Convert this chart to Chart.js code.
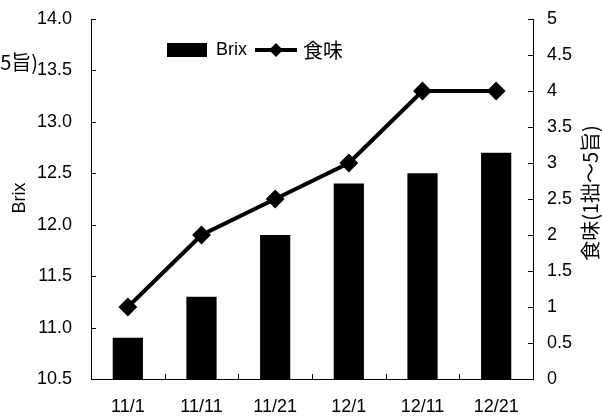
<!DOCTYPE html>
<html>
<head>
<meta charset="utf-8">
<script src="https://cdn.jsdelivr.net/npm/chart.js@4"></script>
<style>
  body { margin: 0; background: #fff; }
  #wrap { width: 602px; height: 416px; }
</style>
</head>
<body>
<div id="wrap"><canvas id="brixChart" width="602" height="416"></canvas></div>
<script>
// harvest dates and measurements
const dates = ['11/1', '11/11', '11/21', '12/1', '12/11', '12/21'];
const brixValues = [10.9, 11.3, 11.9, 12.4, 12.5, 12.7];
const tasteValues = [1, 2, 2.5, 3, 4, 4];
const brixTicks = ['10.5', '11.0', '11.5', '12.0', '12.5', '13.0', '13.5', '14.0'];
const tasteTicks = ['0', '0.5', '1', '1.5', '2', '2.5', '3', '3.5', '4', '4.5', '5'];

const latin = 'Arial, "Liberation Sans", sans-serif';
const cjk = '"Noto Sans CJK JP", "Liberation Sans", sans-serif';
const tasteTitle = '食味(1拙～5旨)';

// fixed axis box sizes so the plot area sits at 91..533 x 19..379
const fixWidth = w => s => { s.width = w; s.paddingTop = 0; s.paddingBottom = 0; };

// inward tick marks, axis titles and the legend
const decorations = {
  id: 'decorations',
  afterDraw(chart) {
    const ctx = chart.ctx;
    const { y, y1 } = chart.scales;
    const area = chart.chartArea;
    ctx.save();
    ctx.strokeStyle = '#000';
    ctx.lineWidth = 1;
    ctx.beginPath();
    y.ticks.forEach(t => {
      const py = Math.round(y.getPixelForValue(t.value)) + 0.5;
      ctx.moveTo(area.left, py);
      ctx.lineTo(area.left + 5, py);
    });
    y1.ticks.forEach(t => {
      const py = Math.round(y1.getPixelForValue(t.value)) + 0.5;
      ctx.moveTo(area.right - 5, py);
      ctx.lineTo(area.right, py);
    });
    const step = (area.right - area.left) / dates.length;
    for (let i = 1; i < dates.length; i++) {
      const px = Math.round(area.left + step * i) + 0.5;
      ctx.moveTo(px, area.bottom);
      ctx.lineTo(px, area.bottom - 5);
    }
    ctx.stroke();

    ctx.fillStyle = '#000';
    ctx.textBaseline = 'middle';

    // left axis title
    ctx.save();
    ctx.translate(20, 198);
    ctx.rotate(-Math.PI / 2);
    ctx.textAlign = 'center';
    ctx.font = '18px ' + latin;
    ctx.fillText('Brix', 0, 0);
    ctx.restore();

    // right axis title
    ctx.save();
    ctx.translate(590, 193);
    ctx.rotate(-Math.PI / 2);
    ctx.textAlign = 'center';
    ctx.font = '20px ' + cjk;
    ctx.fillText(tasteTitle, 0, 0);
    ctx.restore();

    // stray copy of the title running off the left edge
    ctx.textAlign = 'right';
    ctx.font = '20px ' + cjk;
    ctx.fillText(tasteTitle, 38, 62);

    // legend
    ctx.textAlign = 'left';
    ctx.fillRect(167, 43, 40, 14);
    ctx.font = '18px ' + latin;
    ctx.fillText('Brix', 216, 50);
    ctx.lineWidth = 4;
    ctx.beginPath();
    ctx.moveTo(255, 50);
    ctx.lineTo(297, 50);
    ctx.stroke();
    ctx.beginPath();
    ctx.moveTo(276, 43);
    ctx.lineTo(283, 50);
    ctx.lineTo(276, 57);
    ctx.lineTo(269, 50);
    ctx.closePath();
    ctx.fill();
    ctx.font = '20px ' + cjk;
    ctx.fillText('食味', 303, 50);
    ctx.restore();
  }
};

new Chart(document.getElementById('brixChart'), {
  type: 'bar',
  data: {
    labels: dates,
    datasets: [
      {
        type: 'line',
        label: '食味',
        data: tasteValues,
        yAxisID: 'y1',
        borderColor: '#000',
        backgroundColor: '#000',
        borderWidth: 4,
        pointStyle: 'rectRot',
        pointRadius: 8,
        pointBorderWidth: 2,
        tension: 0,
        order: 0
      },
      {
        label: 'Brix',
        data: brixValues,
        yAxisID: 'y',
        backgroundColor: '#000',
        barPercentage: 0.41,
        categoryPercentage: 1,
        order: 1
      }
    ]
  },
  plugins: [decorations],
  options: {
    responsive: false,
    animation: false,
    layout: { autoPadding: false, padding: { top: 19, left: 0, right: 0, bottom: 0 } },
    plugins: { legend: { display: false }, tooltip: { enabled: false } },
    scales: {
      x: {
        grid: { display: false },
        border: { display: true, color: '#000', width: 1 },
        ticks: { color: '#000', font: { family: latin, size: 18 }, padding: 9, maxRotation: 0 },
        afterFit: s => { s.height = 37; s.paddingLeft = 0; s.paddingRight = 0; }
      },
      y: {
        position: 'left',
        min: 10.5,
        max: 14,
        grid: { display: false, drawTicks: false },
        border: { display: true, color: '#000', width: 1 },
        ticks: {
          stepSize: 0.5,
          color: '#000',
          padding: 19,
          font: { family: latin, size: 18 },
          callback: (v, i) => brixTicks[i]
        },
        afterFit: fixWidth(91)
      },
      y1: {
        position: 'right',
        min: 0,
        max: 5,
        grid: { display: false, drawTicks: false },
        border: { display: true, color: '#000', width: 1 },
        ticks: {
          stepSize: 0.5,
          color: '#000',
          padding: 14,
          font: { family: latin, size: 18 },
          callback: (v, i) => tasteTicks[i]
        },
        afterFit: fixWidth(69)
      }
    }
  }
});
</script>
</body>
</html>
